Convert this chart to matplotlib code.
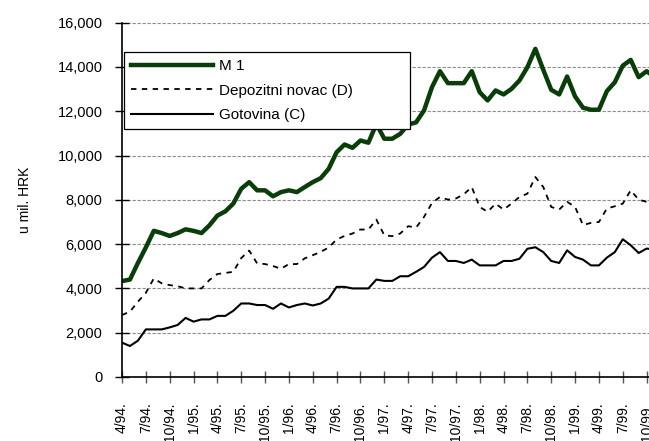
import matplotlib
matplotlib.use("Agg")
import matplotlib.pyplot as plt

plt.rcParams['font.family'] = ['Liberation Sans', 'DejaVu Sans']

# monthly data, 4/94 .. 11/99, u mil. HRK
m1 = [4330, 4400, 5150, 5850, 6600, 6500, 6370, 6500, 6670, 6600,
      6500, 6850, 7290, 7480, 7830, 8500, 8800, 8430, 8430, 8160,
      8350, 8430, 8350, 8580, 8800, 8980, 9400, 10150, 10500, 10350,
      10680, 10580, 11430, 10760, 10760, 10980, 11400, 11500, 12040, 13090,
      13810, 13270, 13270, 13270, 13810, 12860, 12490, 12940, 12760, 13010,
      13390, 13990, 14820, 13870, 12970, 12760, 13570, 12670, 12160, 12070,
      12070, 12910, 13310, 14060, 14320, 13540, 13810, 13550]

depozitni = [2800, 2950, 3400, 3800, 4450, 4230, 4150, 4100, 4000, 4000,
             4000, 4380, 4650, 4700, 4750, 5370, 5710, 5130, 5100, 5010,
             4890, 5100, 5100, 5360, 5500, 5650, 5850, 6210, 6370, 6480,
             6660, 6660, 7110, 6400, 6360, 6480, 6810, 6750, 7230, 7860,
             8130, 8010, 8060, 8250, 8580, 7680, 7460, 7830, 7560, 7830,
             8130, 8280, 9030, 8580, 7680, 7560, 7910, 7680, 6860, 6960,
             7000, 7610, 7710, 7830, 8430, 8010, 7910, 7800]

gotovina = [1550, 1400, 1640, 2150, 2150, 2150, 2240, 2350, 2670, 2500,
            2600, 2600, 2760, 2760, 2990, 3320, 3320, 3250, 3250, 3080,
            3320, 3140, 3250, 3320, 3230, 3320, 3540, 4070, 4070, 4000,
            4000, 4000, 4400, 4340, 4340, 4550, 4550, 4750, 4970, 5390,
            5640, 5240, 5240, 5150, 5300, 5040, 5040, 5040, 5240, 5240,
            5340, 5790, 5860, 5640, 5240, 5150, 5720, 5420, 5300, 5040,
            5040, 5390, 5640, 6220, 5950, 5600, 5800, 5750]

tick_labels = ["4/94.", "7/94.", "10/94.", "1/95.", "4/95.", "7/95.", "10/95.",
               "1/96.", "4/96.", "7/96.", "10/96.", "1/97.", "4/97.", "7/97.",
               "10/97.", "1/98.", "4/98.", "7/98.", "10/98.", "1/99.", "4/99.",
               "7/99.", "10/99."]

x = list(range(len(m1)))

fig = plt.figure(figsize=(6.49, 4.41), dpi=100)
ax = fig.add_axes([122 / 649, 1 - 377 / 441, 1 - 122 / 649, (377 - 22.7) / 441])

ax.plot(x, m1, color='#0b3d0b', lw=3.2, label='M 1', solid_joinstyle='round')
ax.plot(x, depozitni, color='black', lw=1.3, ls=(0, (3, 3)),
        label='Depozitni novac (D)')
ax.plot(x, gotovina, color='black', lw=1.5, label='Gotovina (C)')

ax.set_xlim(0, 66.3)
ax.set_ylim(0, 16000)
ax.set_yticks(range(0, 16001, 2000))
ax.yaxis.set_major_formatter(matplotlib.ticker.FuncFormatter(lambda v, p: f"{int(v):,}"))
ax.set_xticks(range(0, 67, 3))
ax.set_xticklabels(tick_labels, rotation=90)

ax.grid(axis='y', color='#8c8c8c', ls=(0, (3, 1.5)), lw=0.8)
ax.set_axisbelow(True)
for s in ['top', 'right']:
    ax.spines[s].set_visible(False)
ax.spines['left'].set_linewidth(1.2)
ax.spines['bottom'].set_linewidth(1.2)

ax.tick_params(axis='y', direction='inout', length=10, width=1, labelsize=10.5, pad=9)
ax.tick_params(axis='x', direction='inout', length=9, width=1, labelsize=10, pad=14,
               color='#555555')
ax.set_ylabel("u mil. HRK", fontsize=10, labelpad=18)

leg = ax.legend(loc='upper left', mode='expand',
                bbox_to_anchor=(124 / 649, 1 - 133 / 441, 286 / 649, 81 / 441),
                bbox_transform=fig.transFigure, fontsize=11, handlelength=5.4,
                handletextpad=0.4, labelspacing=0.7, borderpad=0.45,
                fancybox=False, framealpha=1, edgecolor='black', borderaxespad=0)
leg.get_frame().set_linewidth(0.9)

fig.savefig("out.png", dpi=100)
